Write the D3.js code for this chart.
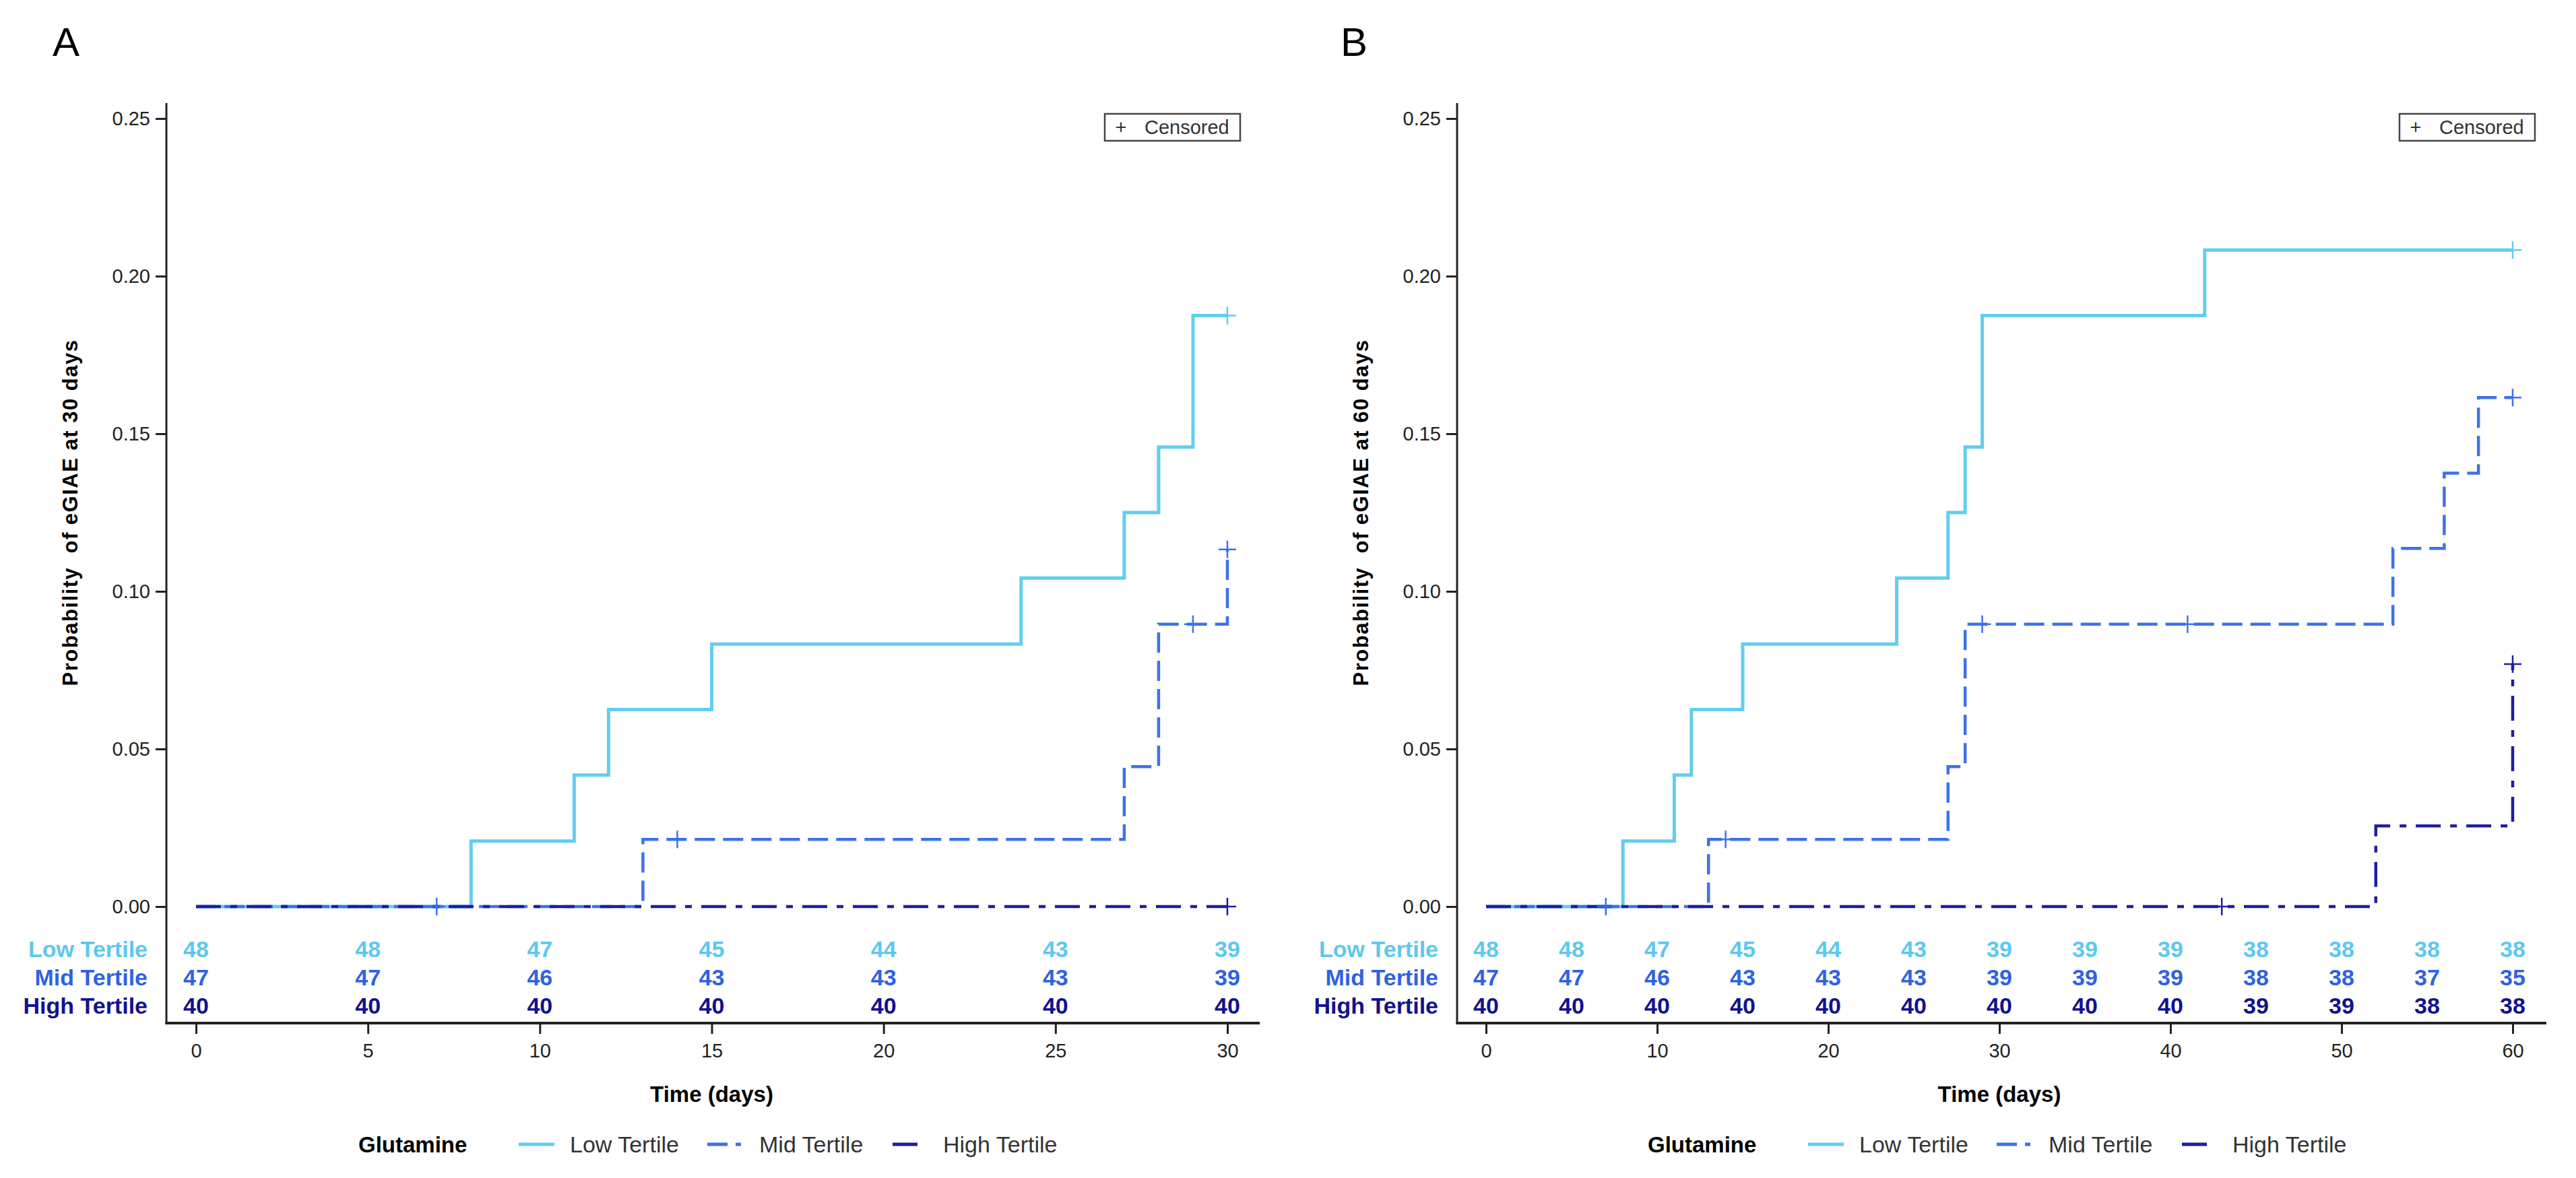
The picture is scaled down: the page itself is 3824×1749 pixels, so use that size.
<!DOCTYPE html>
<html>
<head>
<meta charset="utf-8">
<script src="https://cdn.jsdelivr.net/npm/d3@7"></script>
<style>
  body { margin: 0; background: #fff; }
  text { font-family: "Liberation Sans", Arial, sans-serif; }
</style>
</head>
<body>
<div id="plot"></div>
<script>
const WIDTH = 3824;
const HEIGHT = 1749;

// groups
const GROUPS = ["Low Tertile", "Mid Tertile", "High Tertile"];
const COLORS = ["#62cdf0", "#3d72e8", "#1e1e9e"];
const TEXT_COLORS = ["#5cc8ef", "#2f62e0", "#12128e"];
const DASHES = [null, "30,12", "37,14,10,14"];

// panel A (30 days): step times and cumulative probability
const A_LOW_T = [0, 8, 11, 12, 15, 24, 27, 28, 29, 30];
const A_LOW_P = [0, 0.0208, 0.0417, 0.0625, 0.0833, 0.1042, 0.125, 0.1458, 0.1875, 0.1875];
const A_LOW_CENS = [30];
const A_MID_T = [0, 13, 27, 28, 30];
const A_MID_P = [0, 0.0213, 0.0444, 0.0896, 0.1133];
const A_MID_CENS = [7, 14, 29, 30];
const A_HIGH_T = [0, 30];
const A_HIGH_P = [0, 0];
const A_HIGH_CENS = [30];

// panel B (60 days)
const B_LOW_T = [0, 8, 11, 12, 15, 24, 27, 28, 29, 42, 60];
const B_LOW_P = [0, 0.0208, 0.0417, 0.0625, 0.0833, 0.1042, 0.125, 0.1458, 0.1875, 0.2083, 0.2083];
const B_LOW_CENS = [60];
const B_MID_T = [0, 13, 27, 28, 53, 56, 58, 60];
const B_MID_P = [0, 0.0213, 0.0444, 0.0896, 0.1136, 0.1375, 0.1615, 0.1615];
const B_MID_CENS = [7, 14, 29, 41, 60];
const B_HIGH_T = [0, 52, 60];
const B_HIGH_P = [0, 0.0256, 0.0769];
const B_HIGH_CENS = [43, 60];

// numbers at risk
const A_RISK_T = [0, 5, 10, 15, 20, 25, 30];
const A_RISK_LOW = [48, 48, 47, 45, 44, 43, 39];
const A_RISK_MID = [47, 47, 46, 43, 43, 43, 39];
const A_RISK_HIGH = [40, 40, 40, 40, 40, 40, 40];
const B_RISK_T = [0, 5, 10, 15, 20, 25, 30, 35, 40, 45, 50, 55, 60];
const B_RISK_LOW = [48, 48, 47, 45, 44, 43, 39, 39, 39, 38, 38, 38, 38];
const B_RISK_MID = [47, 47, 46, 43, 43, 43, 39, 39, 39, 38, 38, 37, 35];
const B_RISK_HIGH = [40, 40, 40, 40, 40, 40, 40, 40, 40, 39, 39, 38, 38];

// ticks
const Y_TICKS = [0, 0.05, 0.10, 0.15, 0.20, 0.25];
const A_X_TICKS = [0, 5, 10, 15, 20, 25, 30];
const B_X_TICKS = [0, 10, 20, 30, 40, 50, 60];

const svg = d3.select("#plot").append("svg")
    .attr("width", WIDTH)
    .attr("height", HEIGHT);

function drawPanel(p) {
    const x = d3.scaleLinear().domain([0, p.maxT]).range([p.x0, p.x1]);
    const y = d3.scaleLinear().domain([0, 0.25]).range([1346, 176]);
    const g = svg.append("g");

    // panel letter
    g.append("text")
        .attr("x", p.letterX).attr("y", 83)
        .attr("font-size", 60)
        .text(p.letter);

    // axes lines
    g.append("line")
        .attr("x1", p.axisX).attr("x2", p.axisX)
        .attr("y1", 153).attr("y2", 1521)
        .attr("stroke", "#222").attr("stroke-width", 3);
    g.append("line")
        .attr("x1", p.axisX - 1.5).attr("x2", p.axisEnd)
        .attr("y1", 1519).attr("y2", 1519)
        .attr("stroke", "#222").attr("stroke-width", 4);

    const yAxis = g.append("g")
        .attr("transform", "translate(" + p.axisX + ",0)")
        .call(d3.axisLeft(y).tickValues(Y_TICKS).tickFormat(d3.format(".2f"))
            .tickSize(16).tickPadding(8));
    yAxis.select(".domain").remove();
    yAxis.selectAll("line").attr("stroke", "#222").attr("stroke-width", 3);
    yAxis.selectAll("text").attr("font-size", 29).attr("fill", "#222")
        .style("font-family", "Liberation Sans, Arial, sans-serif");

    const xAxis = g.append("g")
        .attr("transform", "translate(0,1519)")
        .call(d3.axisBottom(x).tickValues(p.xTicks).tickSize(16).tickPadding(14));
    xAxis.select(".domain").remove();
    xAxis.selectAll("line").attr("stroke", "#222").attr("stroke-width", 3);
    xAxis.selectAll("text").attr("font-size", 29).attr("fill", "#222")
        .style("font-family", "Liberation Sans, Arial, sans-serif");

    // axis titles
    g.append("text")
        .attr("transform", "translate(" + (p.axisX - 132) + ",761) rotate(-90)")
        .attr("text-anchor", "middle")
        .attr("font-size", 31).attr("font-weight", "bold")
        .attr("letter-spacing", 1.5)
        .style("white-space", "pre")
        .text(p.yTitle);
    g.append("text")
        .attr("x", (p.x0 + p.x1) / 2).attr("y", 1636)
        .attr("text-anchor", "middle")
        .attr("font-size", 33).attr("font-weight", "bold")
        .text("Time (days)");

    // curves
    const line = d3.line()
        .x(d => x(d[0]))
        .y(d => y(d[1]))
        .curve(d3.curveStepAfter);
    p.series.forEach((s, i) => {
        g.append("path")
            .datum(d3.zip(s.t, s.p))
            .attr("d", line)
            .attr("fill", "none")
            .attr("stroke", COLORS[i])
            .attr("stroke-width", i === 0 ? 5 : 4.5)
            .attr("stroke-dasharray", DASHES[i]);
    });
    // censor marks
    p.series.forEach((s, i) => {
        const stepY = d3.scaleThreshold().domain(s.t.slice(1)).range(s.p);
        g.selectAll(null)
            .data(s.cens)
            .enter()
            .append("path")
                .attr("d", d => {
                    const cx = x(d), cy = y(stepY(d));
                    return "M" + (cx - 13) + "," + cy + "H" + (cx + 13) +
                           "M" + cx + "," + (cy - 13) + "V" + (cy + 13);
                })
                .attr("stroke", COLORS[i])
                .attr("stroke-width", 2.5)
                .attr("fill", "none");
    });

    // censored legend box
    g.append("rect")
        .attr("x", p.boxX).attr("y", 169)
        .attr("width", 201).attr("height", 40)
        .attr("fill", "#fff").attr("stroke", "#444").attr("stroke-width", 2.5);
    g.append("text")
        .attr("x", p.boxX + 24).attr("y", 199)
        .attr("text-anchor", "middle")
        .attr("font-size", 29).attr("fill", "#333")
        .text("+");
    g.append("text")
        .attr("x", p.boxX + 59).attr("y", 199)
        .attr("font-size", 29).attr("fill", "#333")
        .text("Censored");

    // numbers at risk
    const rowY = [1421, 1463, 1505];
    p.risk.forEach((row, i) => {
        g.append("text")
            .attr("x", p.axisX - 28).attr("y", rowY[i])
            .attr("text-anchor", "end")
            .attr("font-size", 34).attr("font-weight", "bold")
            .attr("fill", TEXT_COLORS[i])
            .text(GROUPS[i]);
        g.selectAll(null)
            .data(d3.zip(p.riskT, row))
            .enter()
            .append("text")
                .attr("x", d => x(d[0]))
                .attr("y", rowY[i])
                .attr("text-anchor", "middle")
                .attr("font-size", 34).attr("font-weight", "bold")
                .attr("fill", TEXT_COLORS[i])
                .text(d => d[1]);
    });

    // bottom legend
    const ly = 1699;
    g.append("text")
        .attr("x", p.legX).attr("y", ly + 12)
        .attr("font-size", 33).attr("font-weight", "bold")
        .text("Glutamine");
    const samples = [
        {x: p.legX + 238, w: 53, tx: p.legX + 314},
        {x: p.legX + 518, w: 50, tx: p.legX + 595},
        {x: p.legX + 793, w: 38, tx: p.legX + 868}
    ];
    samples.forEach((s, i) => {
        g.append("line")
            .attr("x1", s.x).attr("x2", s.x + s.w)
            .attr("y1", ly).attr("y2", ly)
            .attr("stroke", COLORS[i]).attr("stroke-width", 5)
            .attr("stroke-dasharray", DASHES[i]);
        g.append("text")
            .attr("x", s.tx).attr("y", ly + 12)
            .attr("font-size", 34).attr("fill", "#333")
            .text(GROUPS[i]);
    });
}

drawPanel({
    letter: "A", letterX: 78, maxT: 30, x0: 291, x1: 1822,
    axisX: 247, axisEnd: 1870, boxX: 1640, legX: 532,
    xTicks: A_X_TICKS, yTitle: "Probability  of eGIAE at 30 days",
    series: [
        {t: A_LOW_T, p: A_LOW_P, cens: A_LOW_CENS},
        {t: A_MID_T, p: A_MID_P, cens: A_MID_CENS},
        {t: A_HIGH_T, p: A_HIGH_P, cens: A_HIGH_CENS}
    ],
    riskT: A_RISK_T, risk: [A_RISK_LOW, A_RISK_MID, A_RISK_HIGH]
});

drawPanel({
    letter: "B", letterX: 1990, maxT: 60, x0: 2206, x1: 3730,
    axisX: 2163, axisEnd: 3780, boxX: 3562, legX: 2446,
    xTicks: B_X_TICKS, yTitle: "Probability  of eGIAE at 60 days",
    series: [
        {t: B_LOW_T, p: B_LOW_P, cens: B_LOW_CENS},
        {t: B_MID_T, p: B_MID_P, cens: B_MID_CENS},
        {t: B_HIGH_T, p: B_HIGH_P, cens: B_HIGH_CENS}
    ],
    riskT: B_RISK_T, risk: [B_RISK_LOW, B_RISK_MID, B_RISK_HIGH]
});
</script>
</body>
</html>
